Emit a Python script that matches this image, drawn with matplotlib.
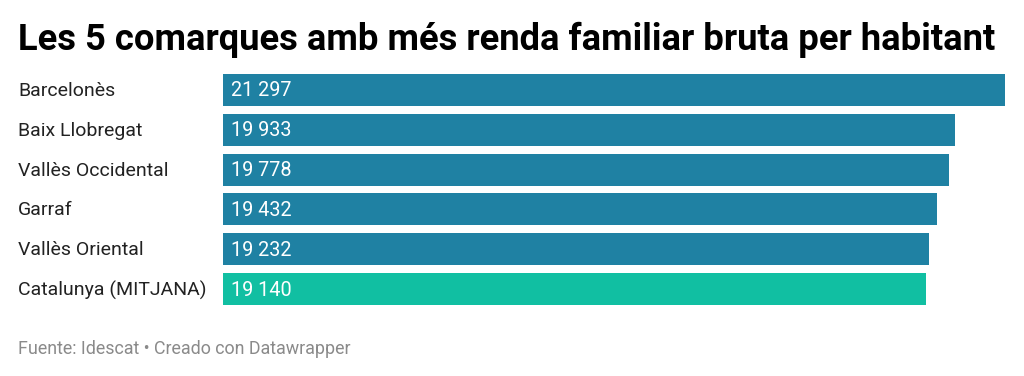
import matplotlib.pyplot as plt

# DATA
comarques = ["Barcelonès", "Baix Llobregat", "Vallès Occidental", "Garraf",
             "Vallès Oriental", "Catalunya (MITJANA)"]
renda = [21297, 19933, 19778, 19432, 19232, 19140]
bar_colors = ["#1f81a3"] * 5 + ["#11bfa2"]

plt.rcParams["font.family"] = ["Roboto", "DejaVu Sans"]

W, H = 1024, 376
fig = plt.figure(figsize=(W / 100, H / 100), dpi=100)
ax = fig.add_axes([223 / W, 1 - 309 / H, (1005 - 223) / W, (309 - 70) / H])

y = list(range(len(comarques)))
ax.barh(y, renda, height=0.8, color=bar_colors)
ax.set_xlim(0, max(renda))
ax.set_ylim(len(comarques) - 0.5, -0.5)
ax.axis("off")


def fmt(v):
    return f"{v:,}".replace(",", " ")


for i, (name, v) in enumerate(zip(comarques, renda)):
    ax.annotate(name, xy=(0, i), xycoords=("axes fraction", "data"),
                xytext=(18, -1), textcoords=("figure pixels", "offset pixels"),
                ha="left", va="center", fontsize=14, color="#222222")
    ax.annotate(fmt(v), xy=(0, i), xycoords="data", xytext=(8, -1),
                textcoords="offset pixels", ha="left", va="center",
                fontsize=14.3, color="white")

fig.text(18 / W, 1 - 40 / H, "Les 5 comarques amb més renda familiar bruta per habitant",
         fontsize=26.2, fontweight="bold", ha="left", va="center", color="#000000")
fig.text(18 / W, 1 - 349 / H, "Fuente: Idescat • Creado con Datawrapper",
         fontsize=12.9, ha="left", va="center", color="#8a8a8a")

fig.savefig("out.png", dpi=100)
